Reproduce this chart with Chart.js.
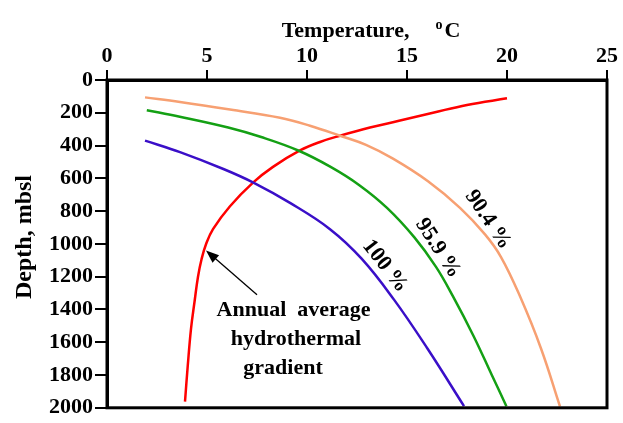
<!DOCTYPE html>
<html><head><meta charset="utf-8">
<script src="https://cdn.jsdelivr.net/npm/chart.js@4"></script>
<style>html,body{margin:0;padding:0;background:#fff}</style>
</head><body>
<canvas id="c" width="623" height="423"></canvas>
<script>
// ---- data ----
const xTickValues = [0, 5, 10, 15, 20, 25];
const yTickValues = [0, 200, 400, 600, 800, 1000, 1200, 1400, 1600, 1800, 2000];

const seriesNames = ["90.4 %", "95.9 %", "100 %", "Annual average hydrothermal gradient"];

const temp904  = [1.9, 3.65, 6.15, 8.65, 10.15, 11.65, 12.95, 14.3, 16.05, 17.65, 18.9, 19.7, 20.65, 21.7, 22.65];
const depth904 = [106, 134, 180, 230, 279, 340, 396, 480, 618, 780, 942, 1080, 1320, 1638, 1992];

const temp959  = [1.99, 3.64, 6.06, 7.71, 9.56, 11.18, 12.6, 14.0, 15.37, 16.45, 17.3, 18.32, 19.24, 19.97];
const depth959 = [184, 224, 290, 348, 430, 530, 640, 780, 960, 1140, 1320, 1560, 1800, 1990];

const temp100  = [1.9, 3.65, 5.82, 7.32, 9.15, 11.15, 12.73, 14.35, 16.03, 17.85];
const depth100 = [370, 440, 543, 626, 750, 910, 1090, 1340, 1640, 1990];

const tempGrad  = [20.0, 18.0, 16.3, 14.6, 13.15, 11.65, 10.65, 9.65, 8.3, 7.3, 6.15, 5.3, 4.95, 4.73, 4.55, 4.38, 4.2, 4.04, 3.9];
const depthGrad = [112, 152, 200, 249, 290, 340, 378, 430, 530, 626, 770, 910, 1002, 1092, 1200, 1350, 1518, 1740, 1962];

const FONT = "'Liberation Serif', 'Times New Roman', serif";

function pts(t, d) { return t.map((v, i) => ({ x: v, y: d[i] })); }

const overlay = {
  id: 'overlay',
  afterDraw(chart) {
    const { ctx, chartArea: a, scales: { x, y } } = chart;
    ctx.save();
    // frame
    ctx.strokeStyle = '#000'; ctx.lineWidth = 3;
    ctx.strokeRect(a.left, a.top, a.right - a.left, a.bottom - a.top);

    ctx.fillStyle = '#000';
    // x title with superscript
    ctx.font = 'bold 22px ' + FONT;
    const t1 = 'Temperature,';
    const w1 = ctx.measureText(t1).width;
    ctx.font = 'bold 14px ' + FONT;
    const wo = ctx.measureText('o').width;
    ctx.font = 'bold 22px ' + FONT;
    const wc = ctx.measureText('C').width;
    const gap = 26;
    const W = w1 + gap + wo + 2 + wc;
    const cx = (a.left + a.right) / 2 + 14;
    let x0 = cx - W / 2;
    ctx.textAlign = 'left'; ctx.textBaseline = 'alphabetic';
    ctx.fillText(t1, x0, 37);
    ctx.font = 'bold 14px ' + FONT;
    ctx.fillText('o', x0 + w1 + gap, 29);
    ctx.font = 'bold 22px ' + FONT;
    ctx.fillText('C', x0 + w1 + gap + wo + 2, 37);

    // y title
    ctx.save();
    ctx.translate(25, 237);
    ctx.rotate(-Math.PI / 2);
    ctx.font = 'bold 24px ' + FONT;
    ctx.textAlign = 'center'; ctx.textBaseline = 'middle';
    ctx.fillText('Depth, mbsl', 0, 0);
    ctx.restore();

    // curve labels
    const labels = [
      { text: seriesNames[0], t: 19.05, d: 852, ang: 56 },
      { text: seriesNames[1], t: 16.55, d: 1026, ang: 57 },
      { text: seriesNames[2], t: 13.9, d: 1135, ang: 52 }
    ];
    ctx.font = 'bold 22px ' + FONT;
    labels.forEach(l => {
      ctx.save();
      ctx.translate(x.getPixelForValue(l.t), y.getPixelForValue(l.d));
      ctx.rotate(l.ang * Math.PI / 180);
      ctx.textAlign = 'center'; ctx.textBaseline = 'middle';
      ctx.fillText(l.text, 0, 0);
      ctx.restore();
    });

    // annotation text
    const lines = [
      { text: 'Annual  average', t: 9.33, d: 1440 },
      { text: 'hydrothermal', t: 9.45, d: 1615 },
      { text: 'gradient', t: 8.8, d: 1795 }
    ];
    ctx.textAlign = 'center'; ctx.textBaseline = 'alphabetic';
    lines.forEach(l => ctx.fillText(l.text, x.getPixelForValue(l.t), y.getPixelForValue(l.d)));

    // arrow
    const tx = x.getPixelForValue(4.95), ty = y.getPixelForValue(1040);
    const sx = x.getPixelForValue(7.5), sy = y.getPixelForValue(1310);
    const ang = Math.atan2(ty - sy, tx - sx);
    const hl = 13, hw = 5;
    ctx.strokeStyle = '#000'; ctx.lineWidth = 1.3;
    ctx.beginPath();
    ctx.moveTo(sx, sy);
    ctx.lineTo(tx - Math.cos(ang) * hl * 0.8, ty - Math.sin(ang) * hl * 0.8);
    ctx.stroke();
    ctx.beginPath();
    ctx.moveTo(tx, ty);
    ctx.lineTo(tx - Math.cos(ang) * hl - Math.sin(ang) * hw, ty - Math.sin(ang) * hl + Math.cos(ang) * hw);
    ctx.lineTo(tx - Math.cos(ang) * hl + Math.sin(ang) * hw, ty - Math.sin(ang) * hl - Math.cos(ang) * hw);
    ctx.closePath();
    ctx.fill();
    ctx.restore();
  }
};

const common = { showLine: true, pointRadius: 0, borderWidth: 2.5, tension: 0.4, fill: false };

new Chart(document.getElementById('c'), {
  type: 'scatter',
  data: {
    datasets: [
      { ...common, label: seriesNames[0], data: pts(temp904, depth904), borderColor: '#F7A072' },
      { ...common, label: seriesNames[1], data: pts(temp959, depth959), borderColor: '#14A014' },
      { ...common, label: seriesNames[2], data: pts(temp100, depth100), borderColor: '#3A0FC8' },
      { ...common, label: seriesNames[3], data: pts(tempGrad, depthGrad), borderColor: '#FF0000' }
    ]
  },
  options: {
    responsive: false,
    animation: false,
    layout: { padding: { left: 0, top: 0, right: 16, bottom: 10 } },
    plugins: { legend: { display: false }, tooltip: { enabled: false } },
    scales: {
      x: {
        type: 'linear', position: 'top', min: 0, max: 25,
        afterBuildTicks: s => { s.ticks = xTickValues.map(v => ({ value: v })); },
        afterFit: s => { s.height = 80; },
        grid: { drawOnChartArea: false, drawTicks: true, tickLength: 10, color: '#000', lineWidth: 2 },
        border: { display: true, color: '#000', width: 3 },
        ticks: { color: '#000', padding: 0, maxRotation: 0, callback: v => String(v), font: { family: FONT, size: 22, weight: 'bold' } }
      },
      y: {
        type: 'linear', reverse: true, min: 0, max: 2000,
        afterBuildTicks: s => { s.ticks = yTickValues.map(v => ({ value: v })); },
        afterFit: s => { s.width = 107; },
        grid: { drawOnChartArea: false, drawTicks: true, tickLength: 12, color: '#000', lineWidth: 2 },
        border: { display: true, color: '#000', width: 3 },
        ticks: { color: '#000', padding: 2, callback: v => String(v), font: { family: FONT, size: 22, weight: 'bold' } }
      }
    }
  },
  plugins: [overlay]
});
</script>
</body></html>
